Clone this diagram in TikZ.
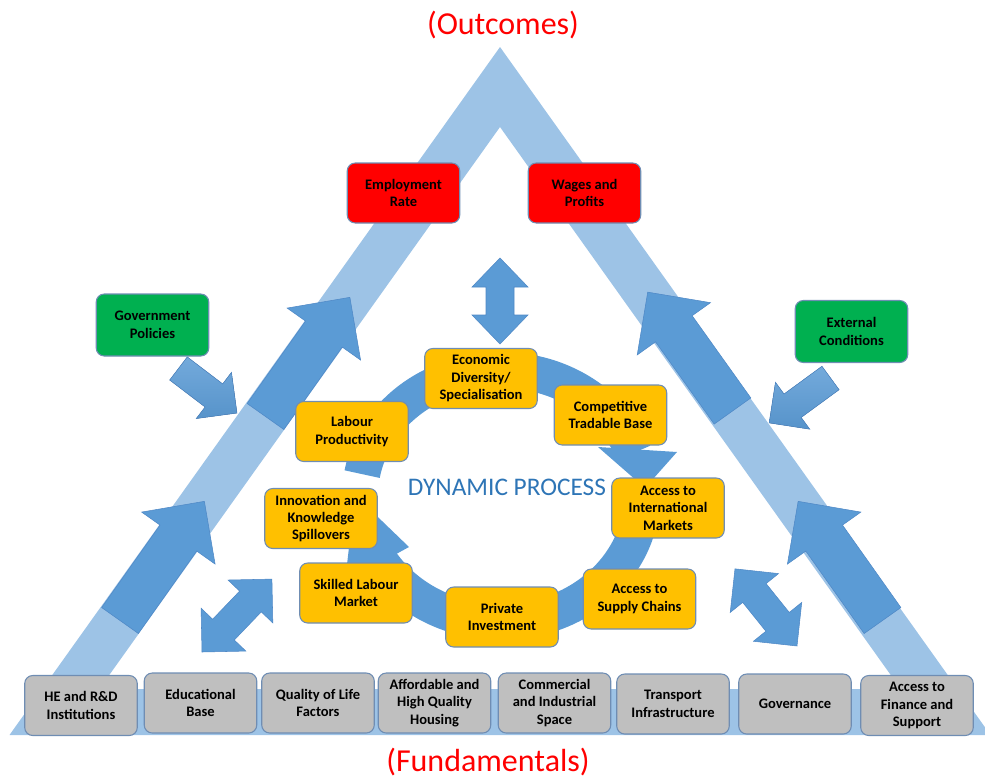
\documentclass[tikz,border=0pt]{standalone}
\usepackage{fontspec}
\setmainfont{Carlito}
\definecolor{band}{HTML}{9DC3E6}
\definecolor{dblue}{HTML}{5B9BD5}
\definecolor{dedge}{HTML}{4F88C6}
\definecolor{orng}{HTML}{FFC000}
\definecolor{grayb}{HTML}{BFBFBF}
\definecolor{grn}{HTML}{00B050}
\definecolor{rd}{HTML}{FF0000}
\definecolor{bordc}{HTML}{6F8DB3}
\definecolor{dyn}{HTML}{2E75B6}
\newcommand\blockarrow[7]{\filldraw[#1,shift={#2},rotate=#3] (0,-#5) -- ({#4-#7},-#5) -- ({#4-#7},-#6) -- (#4,0) -- ({#4-#7},#6) -- ({#4-#7},#5) -- (0,#5) -- cycle;}
\newcommand\dblarrow[7]{\filldraw[#1,shift={#2},rotate=#3] (0,0) -- (#7,-#6) -- (#7,-#5) -- ({#4-#7},-#5) -- ({#4-#7},-#6) -- (#4,0) -- ({#4-#7},#6) -- ({#4-#7},#5) -- (#7,#5) -- (#7,#6) -- cycle;}
\begin{document}
\begin{tikzpicture}[x=0.75pt,y=-0.75pt,
  darr/.style={fill=dblue,draw=dedge,line width=0.4pt},
  garr/.style={top color=dblue!85!white,bottom color=dblue!95!black,draw=dedge,line width=0.4pt},
  ring/.style={draw=dblue,line width=27pt},
  box/.style={rounded corners=6pt,draw=bordc,line width=0.8pt,minimum width=84.4pt,minimum height=45pt,inner sep=0pt,align=center,font=\fontsize{10.9}{13.1}\selectfont\bfseries,text=black},
  obox/.style={box,fill=orng},
  gbox/.style={box,fill=grayb},
  rbox/.style={box,fill=rd},
  grbox/.style={box,fill=grn,minimum height=46.5pt},
  title/.style={text=rd,font=\fontsize{24}{28}\selectfont}]
\useasboundingbox (0,0) rectangle (985,778);
% triangle band
\fill[band,even odd rule] (500,47) -- (990.5,735) -- (9.5,735) -- cycle (500,127) -- (900.7,689) -- (99.3,689) -- cycle;
% big arrows on the band
\blockarrow{darr}{(120,620.5)}{54.7}{146}{22.5}{45}{45}
\blockarrow{darr}{(265.5,416.5)}{54.7}{146}{22.5}{45}{45}
\blockarrow{darr}{(732.5,411)}{125.5}{146}{22.5}{45}{45}
\blockarrow{darr}{(882.5,620.5)}{125.3}{146}{22.5}{45}{45}
% external influence arrows
\blockarrow{garr}{(178.5,368.5)}{-37.3}{73.5}{14.5}{29}{29}
\blockarrow{garr}{(830.5,378)}{216.2}{76}{14.5}{29}{29}
% double arrows
\dblarrow{darr}{(500,344)}{90}{86}{14}{28}{29}
\dblarrow{darr}{(202,652)}{46.2}{101}{15}{31}{31}
\dblarrow{darr}{(797,646)}{128.8}{99}{15}{31}{31}
% dynamic process ring
\draw[ring] plot[domain=190:340,samples=90,variable=\t] ({501+141*cos(\t)},{496+126*sin(\t)});
\draw[ring] plot[domain=5:149,samples=90,variable=\t] ({501+141*cos(\t)},{496+126*sin(\t)});
\coordinate (hA1) at (598,447); \coordinate (hA2) at (677,452); \coordinate (hAt) at (645,488);
\coordinate (hB1) at (409,547); \coordinate (hB2) at (345,582); \coordinate (hBt) at (355,495);
\fill[dblue] (hA1) -- (hA2) -- (hAt) -- cycle;
\fill[dblue] (hB1) -- (hB2) -- (hBt) -- cycle;
% titles
\node[title] (outc) at (503,25) {(Outcomes)};
\node[title] (fund) at (488,762) {(Fundamentals)};
\node[text=dyn,font=\fontsize{19}{22}\selectfont] (dp) at (507,487) {DYNAMIC PROCESS};
% outcome boxes
\node[rbox] (emp) at (403.5,193) {Employment\\Rate};
\node[rbox] (wag) at (584.5,193) {Wages and\\Profits};
% context boxes
\node[grbox] (gov) at (152.5,325) {Government\\Policies};
\node[grbox] (ext) at (851.5,331.5) {External\\Conditions};
% process boxes
\node[obox] (econ) at (481,378.5) {Economic\\Diversity/\\Specialisation};
\node[obox] (comp) at (610.5,415) {Competitive\\Tradable Base};
\node[obox] (lab) at (352,431.5) {Labour\\Productivity};
\node[obox] (intl) at (668,508) {Access to\\International\\Markets};
\node[obox] (innov) at (321,518.5) {Innovation and\\Knowledge\\Spillovers};
\node[obox] (skill) at (356,593) {Skilled Labour\\Market};
\node[obox] (priv) at (502,617) {Private\\Investment};
\node[obox] (supp) at (639.5,599) {Access to\\Supply Chains};
% fundamentals
\node[gbox] (he) at (81,705.5) {HE and R\&D\\Institutions};
\node[gbox] (edu) at (200.5,703) {Educational\\Base};
\node[gbox] (qual) at (318,703) {Quality of Life\\Factors};
\node[gbox] (aff) at (434.5,703) {Affordable and\\High Quality\\Housing};
\node[gbox] (comm) at (554.5,703) {Commercial\\and Industrial\\Space};
\node[gbox] (trans) at (673,704) {Transport\\Infrastructure};
\node[gbox] (govn) at (795,704) {Governance};
\node[gbox] (fin) at (917,705.5) {Access to\\Finance and\\Support};
\end{tikzpicture}
\end{document}
